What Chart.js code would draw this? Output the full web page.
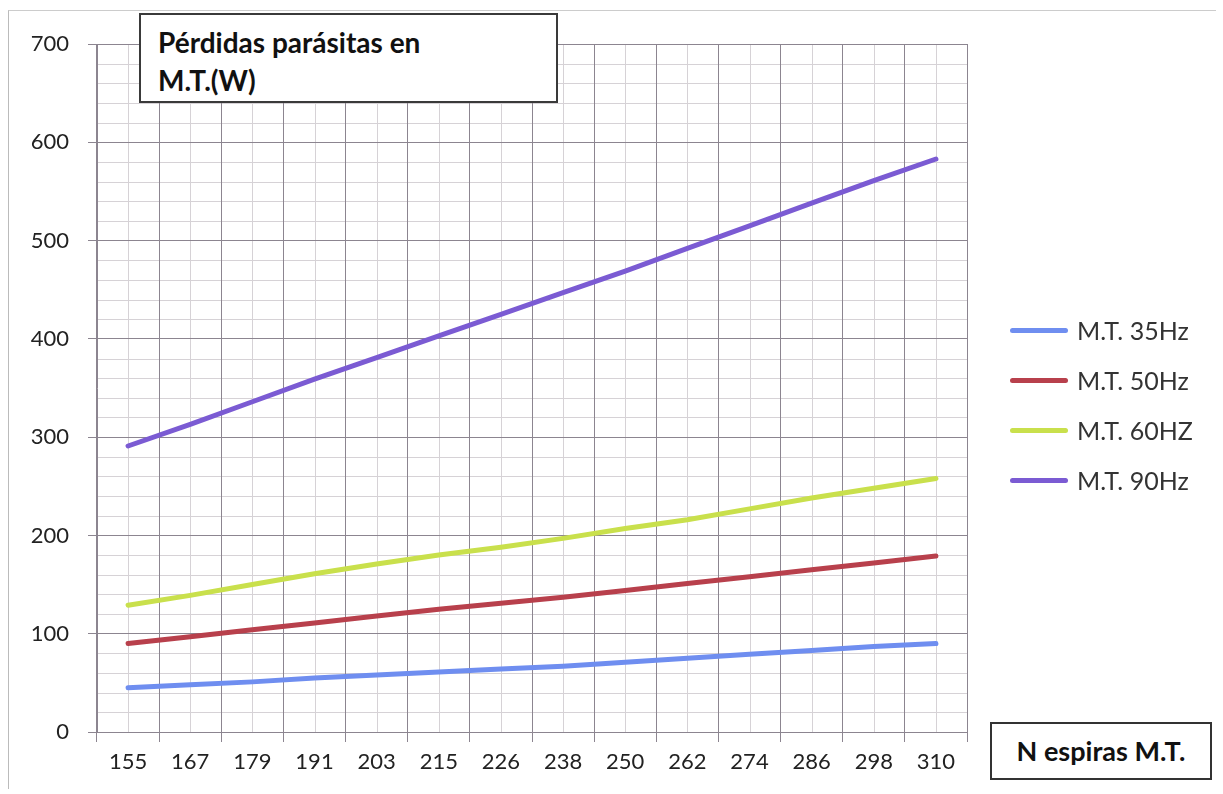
<!DOCTYPE html>
<html>
<head>
<meta charset="utf-8">
<script src="https://cdn.jsdelivr.net/npm/chart.js@4.4.1/dist/chart.umd.min.js"></script>
<style>
    body { margin: 0; background: #fff; }
    #wrap { position: relative; width: 1223px; height: 794px; overflow: hidden; font-family: Lato, "Open Sans", sans-serif; }
    #frame { position: absolute; left: 8px; top: 10px; width: 1207px; height: 778px; border-left: 1px solid #bbb; border-top: 1px solid #ccc; }
    #chart { position: absolute; left: 0; top: 0; }
    #titleBox { position: absolute; left: 139px; top: 13px; width: 398px; height: 86px; border: 2px solid #3a3a3a; background: #fff;
        font-weight: bold; font-size: 28px; line-height: 38px; color: #111; padding: 0 0 0 17px; box-sizing: content-box; }
    #titleBox div { padding-top: 8px; }
    #axisBox { position: absolute; left: 990px; top: 722px; width: 218px; height: 54px; border: 2px solid #333; background: #fff;
        font-weight: bold; font-size: 27px; line-height: 54px; text-align: center; color: #111; }
    #legend { position: absolute; left: 1010px; top: 305px; }
    .item { height: 50px; display: flex; align-items: center; }
    .swatch { width: 58px; height: 5px; border-radius: 3px; margin-right: 9px; }
    .label { font-size: 25px; color: #333; }
</style>
</head>
<body>
<div id="wrap">
    <div id="frame"></div>
    <canvas id="chart" width="1223" height="794"></canvas>
    <div id="titleBox"><div>Pérdidas parásitas en<br>M.T.(W)</div></div>
    <div id="legend"></div>
    <div id="axisBox">N espiras M.T.</div>
</div>
<script>
var espiras = ["155", "167", "179", "191", "203", "215", "226", "238", "250", "262", "274", "286", "298", "310"]

var mt35 = [45, 48, 51, 55, 58, 61, 64, 67, 71, 75, 79, 83, 87, 90]
var mt50 = [90, 97, 104, 111, 118, 125, 131, 137, 144, 151, 158, 165, 172, 179]
var mt60 = [129, 139, 150, 161, 171, 180, 188, 197, 207, 216, 227, 238, 248, 258]
var mt90 = [291, 313, 336, 359, 381, 403, 425, 447, 469, 492, 515, 538, 561, 583]

var seriesNames = ["M.T. 35Hz", "M.T. 50Hz", "M.T. 60HZ", "M.T. 90Hz"]
var seriesColors = ["#6f8ef0", "#b8404c", "#c9e04c", "#7b5bd3"]

function makeDataset(i, values){
    return {
        label: seriesNames[i],
        data: values,
        borderColor: seriesColors[i],
        backgroundColor: seriesColors[i],
        borderWidth: 5,
        borderCapStyle: 'round',
        pointRadius: 0,
        tension: 0,
        fill: false
    }
}

// light grid between the main lines: every 20 W and at each category centre
var minorGrid = {
    id: 'minorGrid',
    beforeDraw: function(chart){
        var ctx = chart.ctx
        var x = chart.scales.x
        var y = chart.scales.y
        var area = chart.chartArea
        ctx.save()
        ctx.strokeStyle = "#d6d2d6"
        ctx.lineWidth = 1
        for(var v = 20; v < 700; v += 20){
            if(v % 100 == 0) continue
            var py = Math.round(y.getPixelForValue(v)) + 0.5
            ctx.beginPath()
            ctx.moveTo(area.left, py)
            ctx.lineTo(area.right, py)
            ctx.stroke()
        }
        for(var i = 0; i < espiras.length; i++){
            var px = Math.round(x.getPixelForValue(i)) + 0.5
            ctx.beginPath()
            ctx.moveTo(px, area.top)
            ctx.lineTo(px, area.bottom)
            ctx.stroke()
        }
        ctx.restore()
    }
}

var ctx = document.getElementById("chart").getContext('2d')
var myChart = new Chart(ctx, {
    type: 'line',
    data: {
        labels: espiras,
        datasets: [makeDataset(0, mt35), makeDataset(1, mt50), makeDataset(2, mt60), makeDataset(3, mt90)]
    },
    options: {
        responsive: false,
        animation: false,
        layout: { padding: { left: 0, right: 256, top: 44, bottom: 0 } },
        plugins: { legend: { display: false }, tooltip: { enabled: false } },
        scales: {
            x: {
                offset: true,
                grid: { offset: true, color: "#8c8590", tickLength: 10, drawTicks: true },
                border: { color: "#8c8590" },
                ticks: { color: "#222", font: { family: "Lato", size: 22 }, padding: 7, maxRotation: 0, autoSkip: false },
                afterFit: function(scale){ scale.height = 62 }
            },
            y: {
                min: 0,
                max: 700,
                grid: { color: "#8c8590", tickLength: 9 },
                border: { color: "#8c8590" },
                ticks: { stepSize: 100, color: "#222", font: { family: "Lato", size: 22 }, padding: 19 },
                afterFit: function(scale){ scale.width = 97 }
            }
        }
    },
    plugins: [minorGrid]
})

// legend built from the datasets
var legendHtml = ""
for(var i = 0; i < myChart.data.datasets.length; i++){
    var ds = myChart.data.datasets[i]
    legendHtml += "<div class='item'><div class='swatch' style='background:" + ds.borderColor + "'></div>"
    legendHtml += "<span class='label'>" + ds.label + "</span></div>"
}
document.getElementById("legend").innerHTML = legendHtml
</script>
</body>
</html>
